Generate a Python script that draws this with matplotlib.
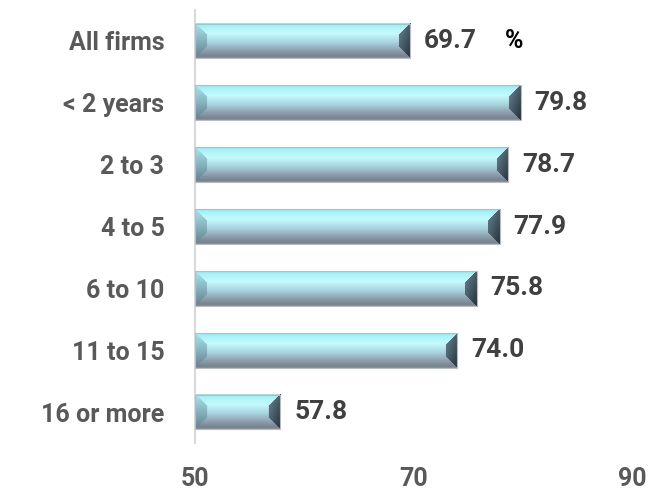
import numpy as np
import matplotlib.pyplot as plt
from matplotlib.colors import to_rgb

categories = ["All firms", "< 2 years", "2 to 3", "4 to 5", "6 to 10", "11 to 15", "16 or more"]
values = [69.7, 79.8, 78.7, 77.9, 75.8, 74.0, 57.8]
xticks = [50, 70, 90]

plt.rcParams['font.family'] = ['Roboto', 'DejaVu Sans']
plt.rcParams['font.weight'] = 'bold'

fig = plt.figure(figsize=(6.67, 4.92), dpi=100)
ax = fig.add_axes([0.2924, 0.0996, 0.655, 0.88])

ypos = np.arange(len(categories))
bars = ax.barh(ypos, [v - 50 for v in values], left=50, height=0.56,
               color='none', edgecolor='#b4bcc0', linewidth=0.8, zorder=3)

ax.set_xlim(50, 90)
ax.set_ylim(6.5, -0.5)
ax.set_xticks(xticks)
ax.set_yticks(ypos)
ax.set_yticklabels(categories, fontweight='bold')
for lab in ax.get_xticklabels():
    lab.set_fontweight('bold')
ax.tick_params(axis='x', length=0, pad=17, labelsize=18, labelcolor='#595959')
ax.tick_params(axis='y', length=0, pad=22, labelsize=18, labelcolor='#595959')
for s in ['top', 'right', 'bottom']:
    ax.spines[s].set_visible(False)
ax.spines['left'].set_color('#d9d9d9')
ax.spines['left'].set_linewidth(1.5)

# vertical shading of the bar face
stops = [0.0, 0.08, 0.3, 0.55, 0.8, 0.95, 1.0]
cols = ['#9adfe8', '#a6f2f8', '#c4fbfd', '#a8d4e0', '#8c9cac', '#76828e', '#8a949c']
cols = np.array([to_rgb(c) for c in cols])
lcols = np.array([to_rgb('#a8e6ee'), to_rgb('#64808e')])
rcols = np.array([to_rgb('#6a8796'), to_rgb('#26323a')])

fig.canvas.draw()
for b in bars:
    x0, y0 = b.get_x(), b.get_y()
    w, h = b.get_width(), b.get_height()
    p0 = ax.transData.transform((x0, y0 + h))
    p1 = ax.transData.transform((x0 + w, y0))
    W = int(round(abs(p1[0] - p0[0])))
    H = int(round(abs(p1[1] - p0[1])))
    t = (np.arange(H) + 0.5) / H
    face = np.stack([np.interp(t, stops, cols[:, k]) for k in range(3)], axis=-1)
    img = np.repeat(face[:, None, :], W, axis=1)
    bev = 12
    rr, cc = np.mgrid[0:H, 0:W]
    left = (cc < bev) & (rr >= cc) & (rr <= H - 1 - cc)
    right = (cc > W - 1 - bev) & (rr >= W - 1 - cc) & (rr <= H - 1 - (W - 1 - cc))
    tl = rr / max(H - 1, 1)
    xr = np.clip((cc - (W - 1 - bev)) / bev, 0, 1)
    for k in range(3):
        lc = lcols[0, k] + (lcols[1, k] - lcols[0, k]) * tl
        img[..., k] = np.where(left, lc, img[..., k])
        rc = rcols[0, k] + (rcols[1, k] - rcols[0, k]) * (0.5 * xr + 0.5 * tl)
        img[..., k] = np.where(right, rc, img[..., k])
    ax.imshow(img, extent=(x0, x0 + w, y0 + h, y0), aspect='auto',
              interpolation='bilinear', zorder=2)

ax.set_xlim(50, 90)
ax.set_ylim(6.5, -0.5)

for i, v in enumerate(values):
    ax.annotate(f"{v:.1f}", (v, i), xytext=(10, 0), textcoords='offset points',
                va='center', ha='left', fontsize=19, color='#404040', fontweight='bold')
ax.annotate("%", (values[0], 0), xytext=(68, 0), textcoords='offset points',
            va='center', ha='left', fontsize=18, color='black', fontweight='bold')

fig.savefig('out.png', dpi=100)
